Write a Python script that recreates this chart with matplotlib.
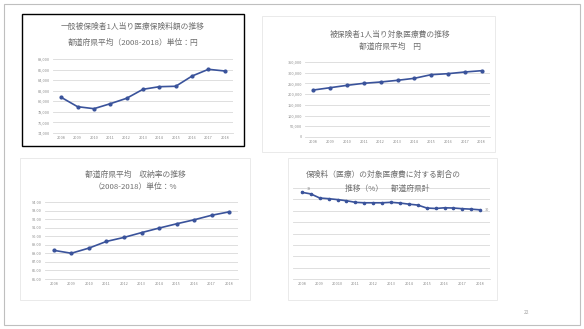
import numpy as np
import matplotlib
matplotlib.use("Agg")
import matplotlib.pyplot as plt
from matplotlib.patches import Rectangle

plt.rcParams['font.family'] = ['Noto Sans CJK JP', 'DejaVu Sans']

# データ
years = ['2008', '2009', '2010', '2011', '2012', '2013', '2014', '2015', '2016', '2017', '2018']
years4 = ['2008', '2009', '20010', '2011', '2012', '2013', '2014', '2015', '2016', '2017', '2018']

premium = [80750, 78980, 78600, 79540, 80570, 82270, 82760, 82840, 84780, 86050, 85730]  # 円
premium_ticks = [74000, 76000, 78000, 80000, 82000, 84000, 86000, 88000]

medcost = [219300, 230100, 241100, 250600, 256700, 264500, 273900, 290800, 295500, 303300, 309400]  # 円
medcost_ticks = [0, 50000, 100000, 150000, 200000, 250000, 300000, 350000]

collect_rate = [88.35, 88.01, 88.61, 89.39, 89.86, 90.42, 90.95, 91.45, 91.92, 92.45, 92.85]  # %
collect_ticks = [85, 86, 87, 88, 89, 90, 91, 92, 93, 94]

ratio = [38.1, 37.4, 35.6, 35.3, 34.9, 34.4, 33.7, 33.5, 33.5, 33.5, 33.7,
         33.4, 32.9, 32.5, 31.2, 31.0, 31.3, 31.2, 30.9, 30.7, 30.4]  # %

W, H = 584, 329
fig = plt.figure(figsize=(W / 100, H / 100), dpi=100)

def box(x0, y0, x1, y1):
    return [x0 / W, 1 - y1 / H, (x1 - x0) / W, (y1 - y0) / H]

def rect(x0, y0, x1, y1, color, lw):
    fig.patches.append(Rectangle((x0 / W, 1 - y1 / H), (x1 - x0) / W, (y1 - y0) / H,
                                 transform=fig.transFigure, fill=False,
                                 edgecolor=color, linewidth=lw))

def title(x, y, s, size=5.6):
    fig.text(x / W, 1 - y / H, s, ha='center', va='center', fontsize=size, color='#6e6e6e')

line_c = '#3A539B'
grid_c = '#d9d9d9'
txt_c = '#8c8c8c'

def style(ax, ticks, labels, ytick_labels=None):
    ax.set_xticks(range(len(labels)))
    ax.set_xticklabels(labels, fontsize=2.8, color=txt_c)
    ax.set_yticks(ticks)
    if ytick_labels is not None:
        ax.set_yticklabels(ytick_labels, fontsize=2.8, color=txt_c)
    else:
        ax.set_yticklabels([])
    ax.set_ylim(ticks[0], ticks[-1])
    ax.grid(True, axis='y', color=grid_c, linewidth=0.6)
    ax.set_axisbelow(True)
    for s in ['top', 'right', 'left']:
        ax.spines[s].set_visible(False)
    ax.spines['bottom'].set_color(grid_c)
    ax.spines['bottom'].set_linewidth(0.6)
    ax.tick_params(length=0, pad=2)

# 枠
rect(4, 4, 580, 325, '#bfbfbf', 0.8)
rect(22, 14, 244, 146, 'black', 1.0)
rect(262, 16, 495, 152, '#e6e6e6', 0.6)
rect(20, 158, 250, 300, '#e6e6e6', 0.6)
rect(288, 158, 497, 300, '#e6e6e6', 0.6)

# 1: 保険料
ax1 = fig.add_axes(box(53, 59, 233, 133))
ax1.plot(range(11), premium, color=line_c, marker='o', markersize=2, linewidth=1.2)
style(ax1, premium_ticks, years, [f'{v:,}' for v in premium_ticks])
ax1.set_xlim(-0.5, 10.5)
title(133, 27, '一般被保険者1人当り医療保険料額の推移')
title(133, 43, '都道府県平均（2008-2018）単位：円')

# 2: 対象医療費
ax2 = fig.add_axes(box(305, 62, 490, 137))
ax2.plot(range(11), medcost, color=line_c, marker='o', markersize=2, linewidth=1.2)
style(ax2, medcost_ticks, years, [f'{v:,}' for v in medcost_ticks])
ax2.set_xlim(-0.5, 10.5)
title(390, 35, '被保険者1人当り対象医療費の推移')
title(390, 47, '都道府県平均　円')

# 3: 収納率
ax3 = fig.add_axes(box(45, 202, 238, 279))
ax3.plot(range(11), collect_rate, color=line_c, marker='o', markersize=2, linewidth=1.2)
style(ax3, collect_ticks, years, [f'{v:.2f}' for v in collect_ticks])
ax3.set_xlim(-0.5, 10.5)
title(135, 175, '都道府県平均　収納率の推移')
title(135, 187, '（2008-2018）単位：%')

# 4: 割合
ax4 = fig.add_axes(box(293, 188, 490, 279))
ax4.plot(range(21), ratio, color=line_c, marker='o', markersize=1.6, linewidth=1.2)
style(ax4, [0, 5, 10, 15, 20, 25, 30, 35, 40], years4)
ax4.set_xticks(range(0, 21, 2))
ax4.set_xticklabels(years4, fontsize=2.8, color=txt_c)
ax4.set_xlim(-1, 21.1)
ax4.text(0.5, ratio[0] + 0.6, '38', fontsize=2.8, color=txt_c, va='bottom')
ax4.text(20.5, ratio[-1], '30', fontsize=2.8, color=txt_c, va='center')
title(383, 175, '保険料（医療）の対象医療費に対する割合の')
title(387, 189, '推移（%）　都道府県計')

fig.text(527 / W, 1 - 312 / H, '22', fontsize=3.5, color='#a0a0a0', ha='center', va='center')

fig.savefig('out.png', dpi=100)
